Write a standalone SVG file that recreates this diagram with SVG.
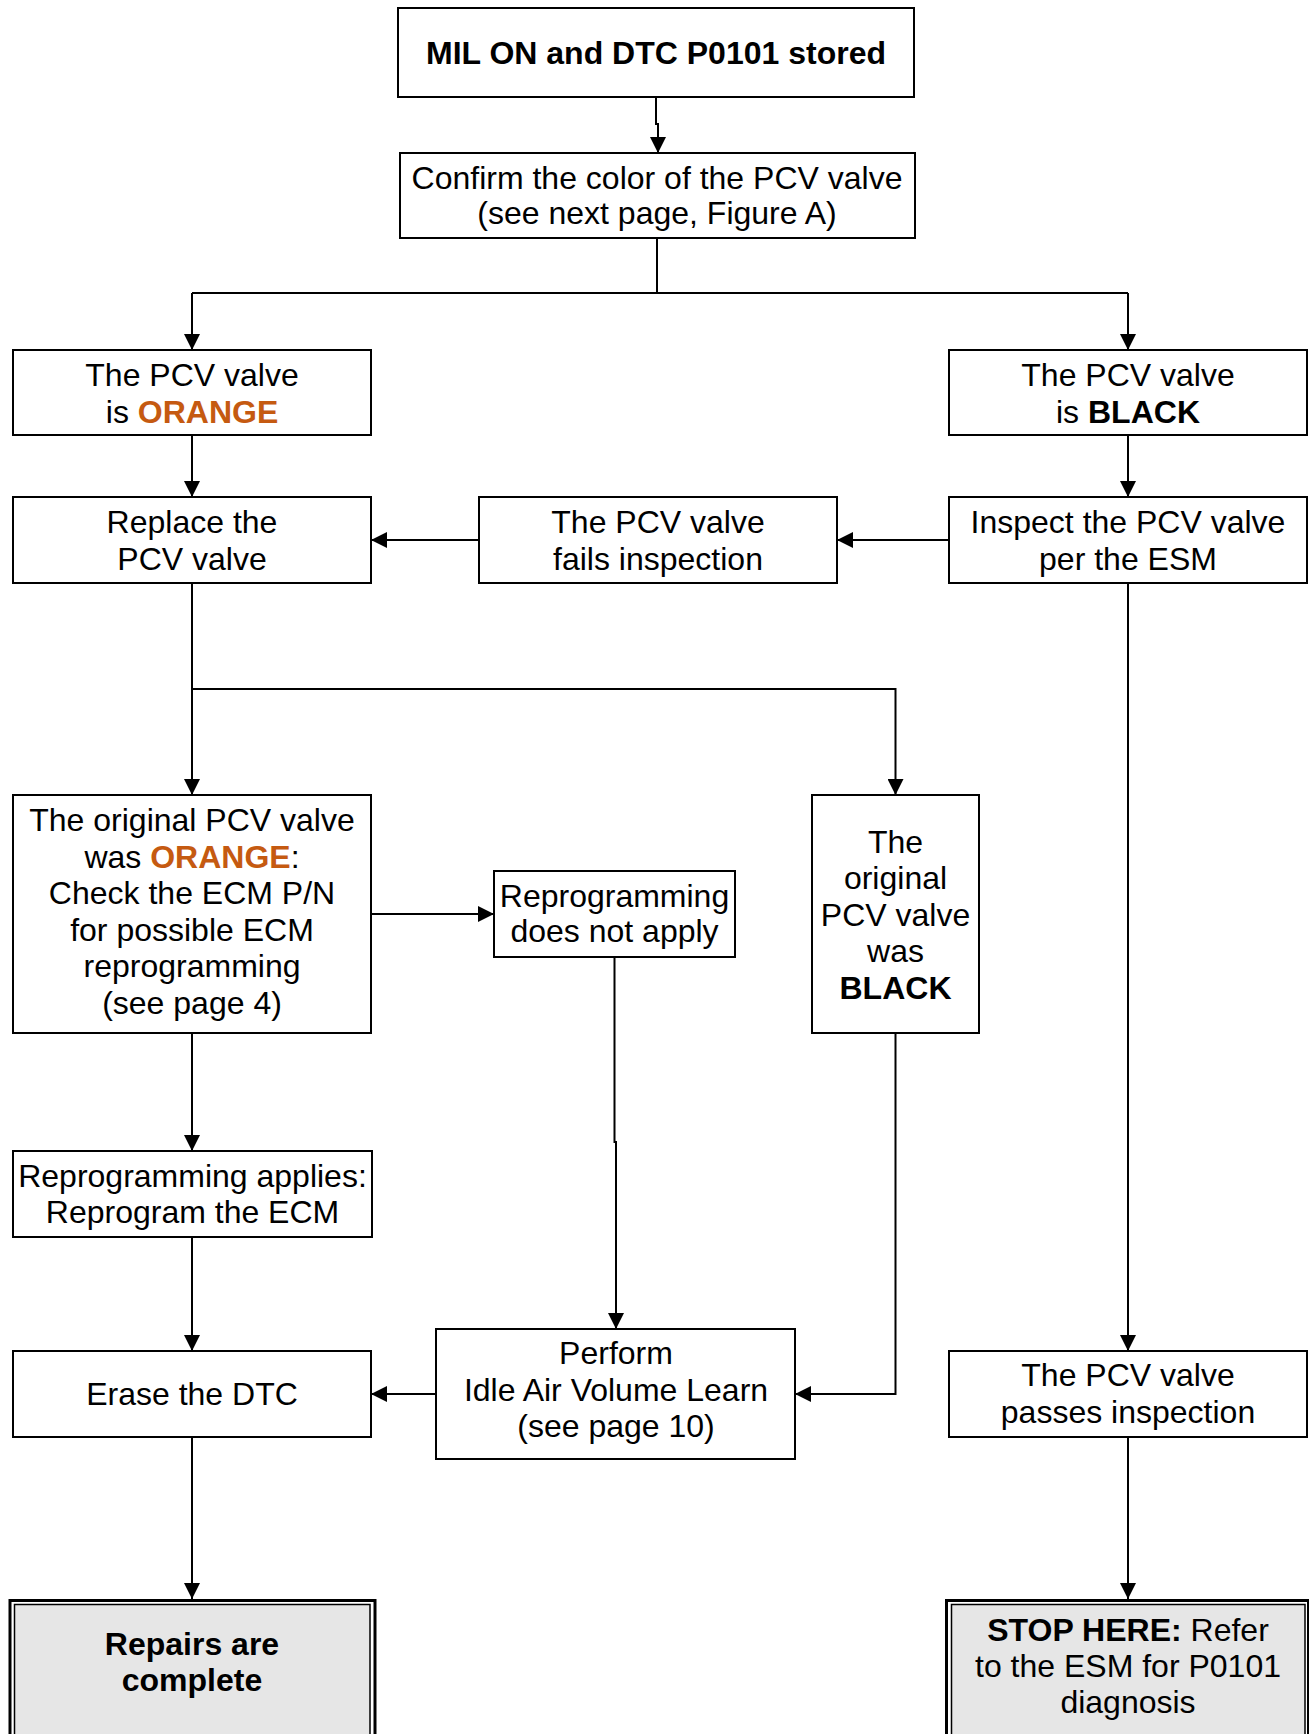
<svg xmlns="http://www.w3.org/2000/svg" width="1309" height="1734" viewBox="0 0 1309 1734">
<style>
.box{fill:#ffffff;stroke:#000000;stroke-width:2}
.outer{fill:#ffffff;stroke:#000000;stroke-width:3}
.inner{fill:#e6e6e6;stroke:#000000;stroke-width:1.5}
.t{font-family:"Liberation Sans",Arial,Helvetica,sans-serif;font-size:32px;fill:#000000;text-anchor:middle}
.b{font-weight:bold}
.o{font-weight:bold;fill:#c55a11}
.c{fill:none;stroke:#000000;stroke-width:2}
.a{marker-end:url(#arr)}
</style>
<defs>
<marker id="arr" viewBox="0 0 16 16" refX="16" refY="8" markerWidth="16" markerHeight="16" markerUnits="userSpaceOnUse" orient="auto">
<path d="M0,0 L16,8 L0,16 Z" fill="#000000"/>
</marker>
</defs>
<rect width="1309" height="1734" fill="#ffffff"/>

<g id="connectors">
<path class="c a" d="M656,97 V124 H658 V153"/>
<path class="c" d="M657,238 V293"/>
<path class="c" d="M192,293 H1128"/>
<path class="c a" d="M192,293 V350"/>
<path class="c a" d="M1128,293 V350"/>
<path class="c a" d="M192,435 V497"/>
<path class="c a" d="M1128,435 V497"/>
<path class="c a" d="M949,540 H837"/>
<path class="c a" d="M479,540 H371"/>
<path class="c a" d="M192,583 V795"/>
<path class="c a" d="M192,689 H895.5 V795"/>
<path class="c a" d="M371,914 H494"/>
<path class="c a" d="M192,1033 V1151"/>
<path class="c a" d="M192,1237 V1351"/>
<path class="c a" d="M614.5,957 V1142 H616 V1329"/>
<path class="c a" d="M895.5,1033 V1394 H795"/>
<path class="c a" d="M436,1394 H371"/>
<path class="c a" d="M192,1437 V1599"/>
<path class="c a" d="M1128,583 V1351"/>
<path class="c a" d="M1128,1437 V1599"/>
</g>

<g id="n-start">
<rect class="box" x="398" y="8" width="516" height="89"/>
<text class="t b" x="656" y="63.5">MIL ON and DTC P0101 stored</text>
</g>

<g id="n-confirm">
<rect class="box" x="400" y="153" width="515" height="85"/>
<text class="t" x="657" y="189">Confirm the color of the PCV valve</text>
<text class="t" x="657" y="224">(see next page, Figure A)</text>
</g>

<g id="n-orange">
<rect class="box" x="13" y="350" width="358" height="85"/>
<text class="t" x="192" y="386">The PCV valve</text>
<text class="t" x="192" y="423">is <tspan class="o">ORANGE</tspan></text>
</g>

<g id="n-black">
<rect class="box" x="949" y="350" width="358" height="85"/>
<text class="t" x="1128" y="386">The PCV valve</text>
<text class="t" x="1128" y="423">is <tspan class="b">BLACK</tspan></text>
</g>

<g id="n-replace">
<rect class="box" x="13" y="497" width="358" height="86"/>
<text class="t" x="192" y="533">Replace the</text>
<text class="t" x="192" y="569.5">PCV valve</text>
</g>

<g id="n-fails">
<rect class="box" x="479" y="497" width="358" height="86"/>
<text class="t" x="658" y="533">The PCV valve</text>
<text class="t" x="658" y="569.5">fails inspection</text>
</g>

<g id="n-inspect">
<rect class="box" x="949" y="497" width="358" height="86"/>
<text class="t" x="1128" y="533">Inspect the PCV valve</text>
<text class="t" x="1128" y="569.5">per the ESM</text>
</g>

<g id="n-orig-orange">
<rect class="box" x="13" y="795" width="358" height="238"/>
<text class="t" x="192" y="831">The original PCV valve</text>
<text class="t" x="192" y="867.5">was <tspan class="o">ORANGE</tspan>:</text>
<text class="t" x="192" y="904">Check the ECM P/N</text>
<text class="t" x="192" y="940.5">for possible ECM</text>
<text class="t" x="192" y="977">reprogramming</text>
<text class="t" x="192" y="1013.5">(see page 4)</text>
</g>

<g id="n-orig-black">
<rect class="box" x="812" y="795" width="167" height="238"/>
<text class="t" x="895.5" y="852.5">The</text>
<text class="t" x="895.5" y="889">original</text>
<text class="t" x="895.5" y="925.5">PCV valve</text>
<text class="t" x="895.5" y="962">was</text>
<text class="t b" x="895.5" y="999">BLACK</text>
</g>

<g id="n-reprog-not">
<rect class="box" x="494" y="871" width="241" height="86"/>
<text class="t" x="614.5" y="906.5">Reprogramming</text>
<text class="t" x="614.5" y="942">does not apply</text>
</g>

<g id="n-reprog-applies">
<rect class="box" x="13" y="1151" width="359" height="86"/>
<text class="t" x="192.5" y="1186.5">Reprogramming applies:</text>
<text class="t" x="192.5" y="1223">Reprogram the ECM</text>
</g>

<g id="n-erase">
<rect class="box" x="13" y="1351" width="358" height="86"/>
<text class="t" x="192" y="1405">Erase the DTC</text>
</g>

<g id="n-perform">
<rect class="box" x="436" y="1329" width="359" height="130"/>
<text class="t" x="616" y="1364">Perform</text>
<text class="t" x="616" y="1400.5">Idle Air Volume Learn</text>
<text class="t" x="616" y="1437">(see page 10)</text>
</g>

<g id="n-passes">
<rect class="box" x="949" y="1351" width="358" height="86"/>
<text class="t" x="1128" y="1386">The PCV valve</text>
<text class="t" x="1128" y="1423">passes inspection</text>
</g>

<g id="n-repairs">
<rect class="outer" x="10" y="1600.5" width="365" height="200"/>
<rect class="inner" x="14.5" y="1604.5" width="355.5" height="200"/>
<text class="t b" x="192" y="1654.5">Repairs are</text>
<text class="t b" x="192" y="1691">complete</text>
</g>

<g id="n-stop">
<rect class="outer" x="946.5" y="1600.5" width="362" height="200"/>
<rect class="inner" x="951.5" y="1604.5" width="353.5" height="200"/>
<text class="t" x="1128" y="1641"><tspan class="b">STOP HERE:</tspan> Refer</text>
<text class="t" x="1128" y="1677">to the ESM for P0101</text>
<text class="t" x="1128" y="1712.5">diagnosis</text>
</g>
</svg>
